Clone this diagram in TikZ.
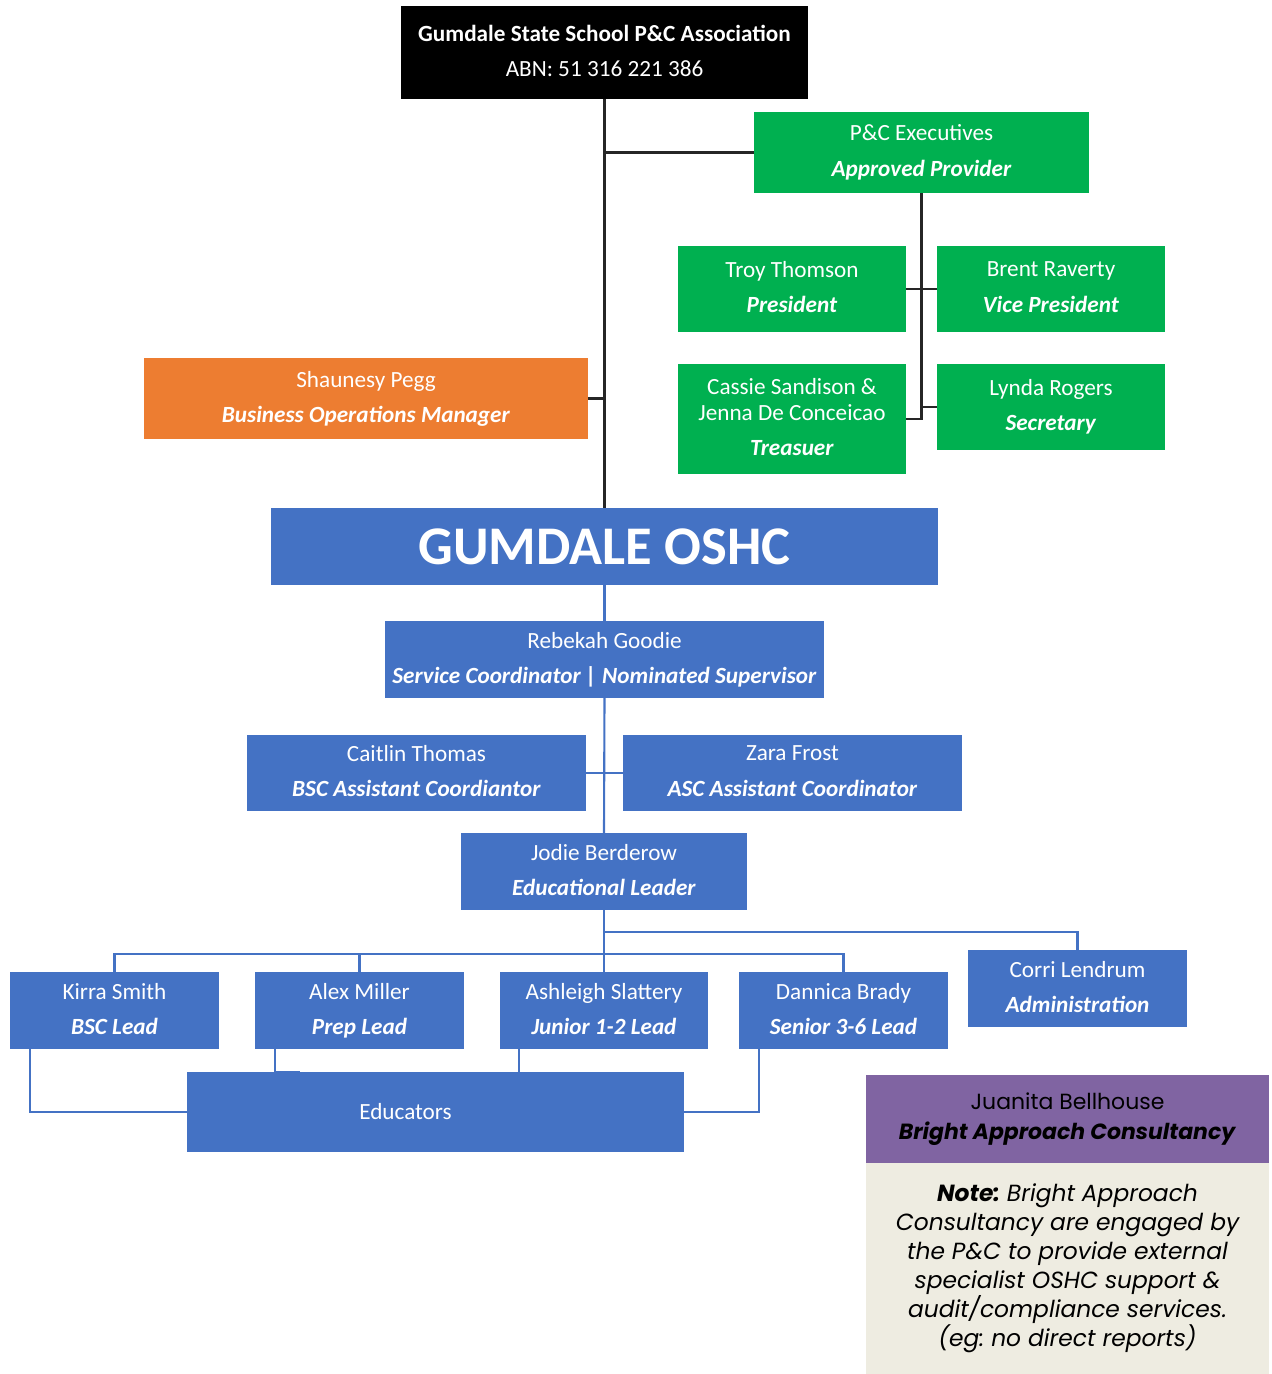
\documentclass[tikz,border=0pt]{standalone}
\usepackage{fontspec}
\setmainfont{Carlito}
\newfontfamily\gothicfont{Poppins}
\usetikzlibrary{positioning}

\definecolor{pcgreen}{HTML}{00B050}
\definecolor{opsorange}{HTML}{ED7D31}
\definecolor{oshcblue}{HTML}{4472C4}
\definecolor{bapurple}{HTML}{8064A2}
\definecolor{notebeige}{HTML}{EEECE1}

\tikzset{
  orgbox/.style={rectangle, inner sep=0pt, outer sep=0pt, align=center, text=white,
    font=\fontsize{13.2}{15}\selectfont},
  blackbox/.style={orgbox, fill=black},
  greenbox/.style={orgbox, fill=pcgreen},
  orangebox/.style={orgbox, fill=opsorange},
  bluebox/.style={orgbox, fill=oshcblue},
  blackline/.style={line width=1.6pt, black!85},
  blueline/.style={line width=1.2pt, oshcblue},
}
\newcommand\role[1]{\\[5pt]\textbf{\textit{#1}}\vphantom{gy}}

\begin{document}
\begin{tikzpicture}[x=0.02cm, y=-0.02cm]
  \useasboundingbox (0,0) rectangle (1272,1374);

  % P&C side
  \node [blackbox, minimum width=8.14cm, minimum height=1.86cm] (assoc) at (604.5,52.5)
    {\textbf{Gumdale State School P\&C Association}\\[5pt]ABN: 51 316 221 386\vphantom{gy}};
  \node [greenbox, minimum width=6.7cm, minimum height=1.62cm] (exec) at (921.5,152.5)
    {P\&C Executives\role{Approved Provider}};
  \node [greenbox, minimum width=4.56cm, minimum height=1.72cm] (troy) at (792,289)
    {Troy Thomson\role{President}};
  \node [greenbox, minimum width=4.56cm, minimum height=1.72cm] (brent) at (1051,289)
    {Brent Raverty\role{Vice President}};
  \node [greenbox, minimum width=4.56cm, minimum height=2.2cm] (cassie) at (792,419)
    {Cassie Sandison \&\\Jenna De Conceicao\role{Treasuer}};
  \node [greenbox, minimum width=4.56cm, minimum height=1.72cm] (lynda) at (1051,407)
    {Lynda Rogers\role{Secretary}};
  \node [orangebox, minimum width=8.88cm, minimum height=1.62cm] (ops) at (366,398.5)
    {Shaunesy Pegg\role{Business Operations Manager}};

  % OSHC side
  \node [bluebox, minimum width=13.34cm, minimum height=1.54cm,
    font=\fontsize{31}{31}\selectfont\bfseries] (oshc) at (604.5,546.5) {GUMDALE OSHC};
  \node [bluebox, minimum width=8.78cm, minimum height=1.54cm] (rebekah) at (604.5,659.5)
    {Rebekah Goodie\role{Service Coordinator | Nominated Supervisor}};
  \node [bluebox, minimum width=6.78cm, minimum height=1.52cm] (caitlin) at (416.5,773)
    {Caitlin Thomas\role{BSC Assistant Coordiantor}};
  \node [bluebox, minimum width=6.78cm, minimum height=1.52cm] (zara) at (792.5,773)
    {Zara Frost\role{ASC Assistant Coordinator}};
  \node [bluebox, minimum width=5.72cm, minimum height=1.54cm] (jodie) at (604,871.5)
    {Jodie Berderow\role{Educational Leader}};
  \node [bluebox, minimum width=4.18cm, minimum height=1.54cm] (kirra) at (114.5,1010.5)
    {Kirra Smith\role{BSC Lead}};
  \node [bluebox, minimum width=4.18cm, minimum height=1.54cm] (alex) at (359.5,1010.5)
    {Alex Miller\role{Prep Lead}};
  \node [bluebox, minimum width=4.16cm, minimum height=1.54cm] (ashleigh) at (604,1010.5)
    {Ashleigh Slattery\role{Junior 1-2 Lead}};
  \node [bluebox, minimum width=4.18cm, minimum height=1.54cm] (dannica) at (843.5,1010.5)
    {Dannica Brady\role{Senior 3-6 Lead}};
  \node [bluebox, minimum width=4.38cm, minimum height=1.54cm] (corri) at (1077.5,988.5)
    {Corri Lendrum\role{Administration}};
  \node [bluebox, minimum width=9.94cm, minimum height=1.6cm,
    label={[text=white, font=\fontsize{13.2}{15}\selectfont, xshift=-0.6cm]center:Educators}]
    (edu) at (435.5,1112) {};

  % consultancy
  \node [orgbox, fill=bapurple, text=black, minimum width=8.06cm, minimum height=1.76cm,
    font=\gothicfont\fontsize{12.5}{17}\selectfont] (juanita) at (1067.5,1119)
    {Juanita Bellhouse\\\textbf{\textit{Bright Approach Consultancy}}};
  \node [orgbox, fill=notebeige, text=black, minimum width=8.06cm, minimum height=4.22cm,
    font=\gothicfont\itshape\frenchspacing\fontsize{13.3}{16.5}\selectfont] (note) at (1067.5,1268.5)
    {\textbf{Note:} Bright Approach\\Consultancy are engaged by\\the P\&C to provide external\\
     specialist OSHC support \&\\audit/compliance services.\\(eg: no direct reports)};

  \draw [blackline] (assoc.south) -- (oshc.north);
  \draw [blackline] (assoc.south |- exec.west) -- (exec.west);
  \draw [blackline] (assoc.south |- ops.east) -- (ops.east);
  \draw [blackline] (exec.south) |- (cassie.east);
  \draw [blackline] (troy.east) -- (brent.west);
  \draw [blackline] (exec.south |- lynda.west) -- (lynda.west);

  \draw [blueline] (oshc.south) -- (rebekah.north);
  \draw [blueline] (rebekah.south) -- (jodie.north);
  \draw [blueline] (caitlin.east) -- (zara.west);
  \draw [blueline] (jodie.south) -- (ashleigh.north);
  \draw [blueline] (jodie.south) -- ++(0,22) -| (corri.north);
  \draw [blueline] (kirra.north) -- ++(0,-18) -| (dannica.north);
  \draw [blueline] (alex.north) -- ++(0,-18);
  \draw [blueline] ([xshift=0.4cm]kirra.south west) |- (edu.west);
  \draw [blueline] ([xshift=0.4cm]alex.south west) |- ([xshift=2.26cm]edu.north west);
  \draw [blueline] ([xshift=0.38cm]ashleigh.south west) -- ([xshift=0.38cm]ashleigh.south west |- edu.north);
  \draw [blueline] ([xshift=0.4cm]dannica.south west) |- (edu.east);
\end{tikzpicture}
\end{document}
